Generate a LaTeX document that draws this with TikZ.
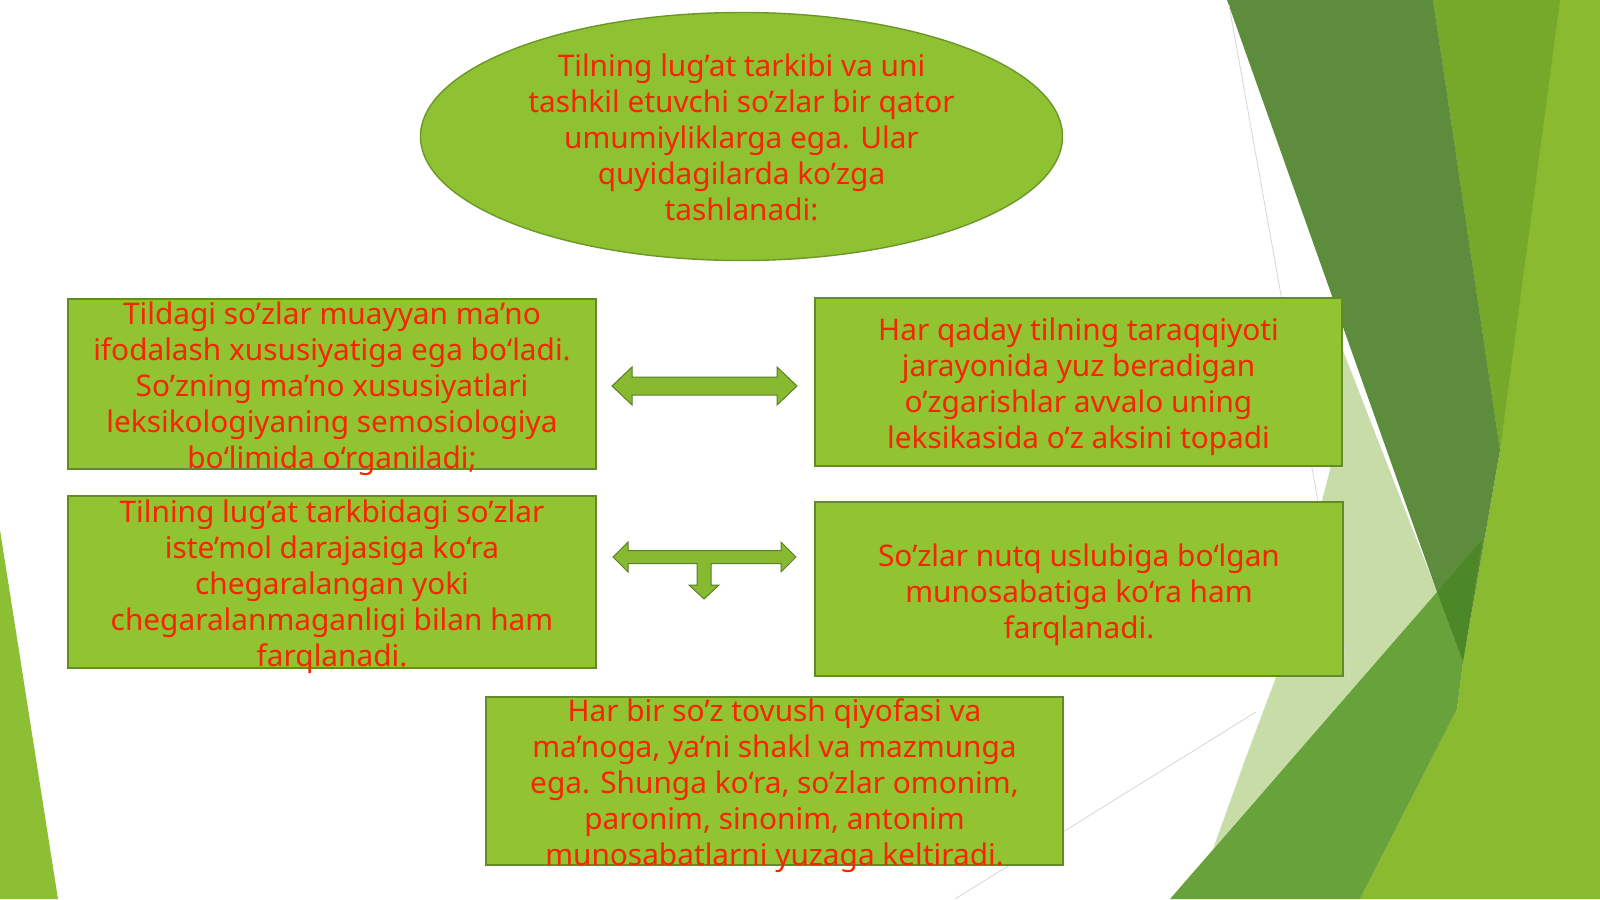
\documentclass[tikz,border=0pt]{standalone}
\usepackage{fontspec}
\setmainfont{Noto Sans}
\usetikzlibrary{shapes.geometric}
\definecolor{boxfill}{RGB}{145,196,48}
\definecolor{boxline}{RGB}{98,140,40}
\definecolor{ellfill}{RGB}{142,194,50}
\definecolor{ellline}{RGB}{108,150,40}
\definecolor{arrfill}{RGB}{135,186,48}
\definecolor{arrline}{RGB}{88,128,40}
\definecolor{txtred}{RGB}{246,36,0}
\definecolor{darkband}{RGB}{92,140,60}
\definecolor{stripg}{RGB}{118,168,42}
\definecolor{rightg}{RGB}{138,186,48}
\definecolor{midband}{RGB}{104,162,58}
\definecolor{overlapg}{RGB}{76,136,40}
\definecolor{paleg}{RGB}{200,220,168}
\definecolor{leftg}{RGB}{141,191,52}
\definecolor{faintline}{RGB}{215,215,215}
\begin{document}
\begin{tikzpicture}[x=1pt,y=-1pt,
  box/.style={draw=boxline, line width=1.6pt, fill=boxfill, inner sep=0pt},
  ell/.style={ellipse, draw=ellline, line width=1.4pt, fill=ellfill, inner sep=0pt},
  txt/.style={text=txtred, align=center, inner sep=0pt, font=\fontsize{29.8}{36}\selectfont},
  arrowshape/.style={fill=arrfill, draw=arrline, line width=1pt, line join=miter}]
% canvas
\fill[white] (0,0) rectangle (1600,899);
\useasboundingbox (0,0) rectangle (1600,899);
% background decoration, right side
\fill[rightg] (1433,0) -- (1600,0) -- (1600,899) -- (1360,899) -- (1457,709) -- (1463,662) -- (1500,450) -- cycle;
\fill[stripg] (1433,0) -- (1560,0) -- (1500,450) -- cycle;
\fill[paleg] (1335,330) -- (1437,592) -- (1213,849) -- (1245,760) -- (1275,680) -- (1330,470) -- cycle;
\fill[darkband] (1227,0) -- (1433,0) -- (1500,450) -- (1463,662) -- (1437,592) -- cycle;
\fill[midband] (1170,899) -- (1437,592) -- (1463,662) -- (1457,709) -- (1360,899) -- cycle;
\fill[overlapg] (1437,592) -- (1482,540) -- (1463,662) -- cycle;
\draw[faintline, line width=0.8pt] (1229,5) -- (1350,680);
\draw[faintline, line width=0.8pt] (1256,712) -- (955,899);
% left decoration
\fill[leftg] (0,530) -- (58,899) -- (0,899) -- cycle;
% top ellipse
\node[ell, minimum width=642pt, minimum height=248pt] (top) at (741.5,136.5) {};
\node[txt] (toptext) at (741.5,141) {\strut Tilning lug’at tarkibi va uni\\
\strut tashkil etuvchi so’zlar bir qator\\
\strut umumiyliklarga ega. Ular\\
\strut quyidagilarda ko’zga\\
\strut tashlanadi:};
% boxes
\node[box, minimum width=528pt, minimum height=170pt] (tl) at (332,384) {};
\node[txt] (tltext) at (332,389) {\strut Tildagi so’zlar muayyan ma’no\\
\strut ifodalash xususiyatiga ega bo‘ladi.\\
\strut So’zning ma’no xususiyatlari\\
\strut leksikologiyaning semosiologiya\\
\strut bo‘limida o‘rganiladi;};
\node[box, minimum width=527pt, minimum height=168pt] (tr) at (1078.5,382) {};
\node[txt] (trtext) at (1078.5,387.5) {\strut Har qaday tilning taraqqiyoti\\
\strut jarayonida yuz beradigan\\
\strut o’zgarishlar avvalo uning\\
\strut leksikasida o’z aksini topadi};
\node[box, minimum width=528pt, minimum height=172pt] (ml) at (332,582) {};
\node[txt] (mltext) at (332,587) {\strut Tilning lug’at tarkbidagi so’zlar\\
\strut iste’mol darajasiga ko‘ra\\
\strut chegaralangan yoki\\
\strut chegaralanmaganligi bilan ham\\
\strut farqlanadi.};
\node[box, minimum width=528pt, minimum height=174pt] (mr) at (1079,589) {};
\node[txt] (mrtext) at (1079,595) {\strut So’zlar nutq uslubiga bo‘lgan\\
\strut munosabatiga ko‘ra ham\\
\strut farqlanadi.};
\node[box, minimum width=577pt, minimum height=168pt] (bot) at (774.5,781) {};
\node[txt] (bottext) at (774.5,786) {\strut Har bir so’z tovush qiyofasi va\\
\strut ma’noga, ya’ni shakl va mazmunga\\
\strut ega. Shunga ko‘ra, so’zlar omonim,\\
\strut paronim, sinonim, antonim\\
\strut munosabatlarni yuzaga keltiradi.};
% block arrows
\path[arrowshape] (612,386) -- (632,367) -- (632,377) -- (777,377) -- (777,367) -- (797,386)
  -- (777,405) -- (777,395) -- (632,395) -- (632,405) -- cycle;
\path[arrowshape] (613,557) -- (628,542) -- (628,550.5) -- (781,550.5) -- (781,542) -- (796,557)
  -- (781,572) -- (781,563.5) -- (711,563.5) -- (711,585) -- (719,585) -- (704,599)
  -- (689,585) -- (697,585) -- (697,563.5) -- (628,563.5) -- (628,572) -- cycle;
\end{tikzpicture}
\end{document}
